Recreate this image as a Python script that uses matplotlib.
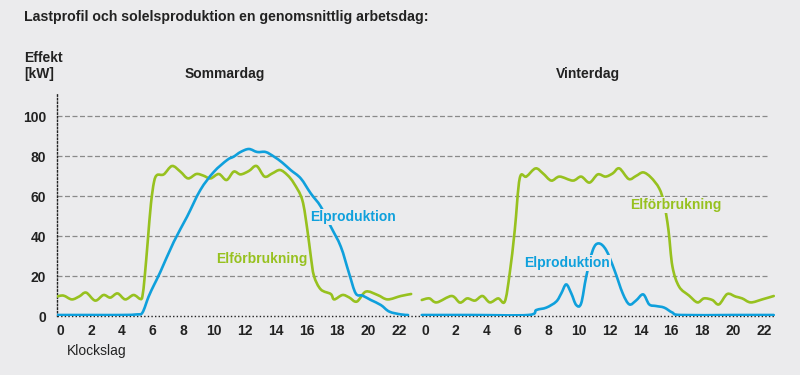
import matplotlib
matplotlib.use("Agg")
import matplotlib.pyplot as plt
from matplotlib.path import Path
from matplotlib.patches import PathPatch

plt.rcParams['font.family'] = ['Liberation Sans', 'DejaVu Sans']

# ---------------- data ----------------
title = "Lastprofil och solelsproduktion en genomsnittlig arbetsdag:"
ylabel = "Effekt\n[kW]"
xlabel = "Klockslag"
panel_titles = ["Sommardag", "Vinterdag"]
tick_hours = [0, 2, 4, 6, 8, 10, 12, 14, 16, 18, 20, 22]
y_ticks = [0, 20, 40, 60, 80, 100]

# Summer load (Elförbrukning)
sum_load_h = [-0.22, 0.22, 0.76, 1.25, 1.69, 2.28, 2.82, 3.26, 3.73, 4.23, 4.77, 5.21,
              5.35, 5.5, 5.7, 5.9, 6.1, 6.3, 6.73, 7.27, 7.81, 8.31, 8.85, 9.3, 9.77,
              10.31, 10.81, 11.28, 11.72, 12.26, 12.76, 13.28, 13.78, 14.28, 14.76,
              15.19, 15.73, 16.06, 16.28, 16.49, 16.93, 17.58, 17.8, 18.34, 18.77,
              19.27, 19.86, 20.62, 21.27, 22.13, 22.8]
sum_load_v = [9.7, 10.2, 8.3, 9.8, 11.7, 7.7, 10.5, 9.2, 11.3, 8.3, 10.5, 8.5,
              10, 20, 38, 56, 67, 70.5, 70.8, 75, 72.2, 68.8, 71, 70.2, 68.8,
              71, 68, 72.2, 70.8, 72.5, 75, 69.7, 71.3, 73, 70.5,
              66.3, 58, 43, 30, 20, 13.3, 11, 8.3, 10.5, 9.3,
              7.2, 12.2, 10.5, 8.3, 10, 11]

# Summer production (Elproduktion)
sum_prod_h = [-0.22, 2, 4, 5.0, 5.35, 5.75, 6.1, 6.51, 7.38, 8.25, 9.11, 9.98, 10.85,
              11.28, 11.72, 12.26, 12.8, 13.35, 13.89, 14.43, 14.97, 15.63, 16.28,
              16.93, 17.58, 18.23, 18.77, 19.2, 19.64, 20.18, 20.83, 21.38, 22.13, 22.6]
sum_prod_v = [0.5, 0.5, 0.5, 0.8, 1.7, 9.7, 15.5, 22, 37, 49.7, 63, 72, 78,
              79.7, 82, 83.5, 82, 82, 79.7, 76.7, 73, 68.8, 61.3,
              54.7, 44.7, 34.7, 21.3, 11.3, 10.2, 8, 5.5, 2.2, 0.8, 0.5]

# Winter load (Elförbrukning)
win_load_h = [-0.21, 0.28, 0.76, 1.73, 2.27, 2.74, 3.24, 3.73, 4.21, 4.75, 5.18,
              5.5, 5.83, 6.15, 6.58, 7.18, 7.66, 8.2, 8.74, 9.6, 10.14, 10.68,
              11.22, 11.72, 12.19, 12.62, 13.23, 13.7, 14.17, 14.67, 15.21, 15.53,
              15.81, 16.07, 16.5, 17.15, 17.69, 18.12, 18.66, 19.09, 19.63, 20.17,
              20.6, 21.15, 21.9, 22.65]
win_load_v = [8, 8.8, 6.8, 10, 6.7, 8.8, 7.7, 10, 6.8, 8.8, 7.2,
              21.3, 43, 68.8, 69.7, 73.8, 71.3, 67.7, 69.7, 67.7, 69.7, 66.7,
              70.8, 69.7, 71.3, 73.8, 68.5, 70, 71.8, 69.3, 63.8, 56.3,
              43, 24.7, 14.7, 10.2, 6.8, 8.8, 8, 5.8, 11, 9.7,
              8.8, 6.8, 8.3, 10]

# Winter production (Elproduktion)
win_prod_h = [-0.21, 3, 6.69, 7.23, 7.88, 8.52, 8.85, 9.17, 9.5, 9.82, 10.14, 10.47,
              10.9, 11.28, 11.76, 12.3, 12.84, 13.27, 13.7, 14.17, 14.56, 15.0,
              15.53, 16.07, 16.62, 20, 22.65]
win_prod_v = [0.5, 0.5, 0.5, 3, 4.2, 7.2, 11.3, 15.8, 11.3, 5.5, 6.3, 19.7,
              33, 36.3, 33, 23, 11.3, 5.8, 7.7, 10.8, 5.8, 5.0,
              4.2, 1.7, 0.5, 0.5, 0.5]

# ---------------- style ----------------
BG = "#ebebed"
GREEN = "#97c11f"
BLUE = "#0fa0dc"
WIN_OFFSET = 23.7   # horizontal shift of the winter panel (hours)


def smooth_path(xs, ys, tension=0.5):
    """Catmull-Rom style cubic Bezier path through the given points."""
    pts = list(zip(xs, ys))
    verts = [pts[0]]
    codes = [Path.MOVETO]
    n = len(pts)
    k = tension / 3.0
    for i in range(n - 1):
        p0 = pts[i - 1] if i > 0 else pts[i]
        p1 = pts[i]
        p2 = pts[i + 1]
        p3 = pts[i + 2] if i + 2 < n else pts[i + 1]
        c1 = (p1[0] + (p2[0] - p0[0]) * k, p1[1] + (p2[1] - p0[1]) * k)
        c2 = (p2[0] - (p3[0] - p1[0]) * k, p2[1] - (p3[1] - p1[1]) * k)
        verts += [c1, c2, p2]
        codes += [Path.CURVE4] * 3
    return Path(verts, codes)


fig = plt.figure(figsize=(8, 3.75), dpi=100, facecolor=BG)
ax = fig.add_axes([57 / 800, 1 - 316 / 375, (775 - 57) / 800, (316 - 94) / 375])
ax.set_facecolor(BG)

xmin, xmax = -0.2, 46.43
ax.set_xlim(xmin, xmax)
ax.set_ylim(0, 111)

# grid lines
for yv in y_ticks[1:]:
    ax.plot([xmin, 45.9], [yv, yv], color="#8a8a8a", lw=0.9, ls=(0, (4, 2)), zorder=1)
ax.plot([xmin, xmax], [0, 0], color="#222222", lw=1.0, ls=(0, (1, 1.6)), zorder=1,
        clip_on=False)

lw = 1.9
series = [
    (sum_load_h, sum_load_v, GREEN, 0.0),
    (sum_prod_h, sum_prod_v, BLUE, 0.0),
    (win_load_h, win_load_v, GREEN, WIN_OFFSET),
    (win_prod_h, win_prod_v, BLUE, WIN_OFFSET),
]
for hs, vs, col, off in series:
    p = smooth_path([h + off for h in hs], vs)
    ax.add_patch(PathPatch(p, facecolor='none', edgecolor=col, lw=lw,
                           joinstyle='round', capstyle='round', zorder=3))

# spines
for s in ['top', 'right', 'bottom']:
    ax.spines[s].set_visible(False)
ax.spines['left'].set_linestyle((0, (1, 1.6)))
ax.spines['left'].set_color("#222222")
ax.spines['left'].set_linewidth(1.0)

# ticks
ax.set_yticks(y_ticks)
ax.set_yticklabels([str(v) for v in y_ticks], fontsize=10, fontweight='bold',
                   color="#222222")
xt = tick_hours + [h + WIN_OFFSET for h in tick_hours]
ax.set_xticks(xt)
ax.set_xticklabels([str(h) for h in tick_hours] * 2, fontsize=10, fontweight='bold',
                   color="#222222")
ax.tick_params(axis='both', length=0, pad=6)
ax.tick_params(axis='y', pad=8)

# texts
fig.text(24 / 800, 1 - 17 / 375, title, fontsize=10.2, fontweight='bold',
         color="#222222", va='center', ha='left')
fig.text(24 / 800, 1 - 66 / 375, ylabel, fontsize=10, fontweight='bold',
         color="#222222", va='center', ha='left', linespacing=1.1)
fig.text(185 / 800, 1 - 74 / 375, panel_titles[0], fontsize=10, fontweight='bold',
         color="#222222", va='center', ha='left')
fig.text(556 / 800, 1 - 74 / 375, panel_titles[1], fontsize=10, fontweight='bold',
         color="#222222", va='center', ha='left')
fig.text(67 / 800, 1 - 351 / 375, xlabel, fontsize=10, color="#222222",
         va='center', ha='left')

bb = dict(facecolor=BG, edgecolor='none', pad=0.6)
fig.text(310 / 800, 1 - 217 / 375, "Elproduktion", fontsize=10, fontweight='bold',
         color=BLUE, va='center', ha='left', bbox=bb, zorder=5)
fig.text(216 / 800, 1 - 259 / 375, "Elförbrukning", fontsize=10, fontweight='bold',
         color=GREEN, va='center', ha='left', bbox=bb, zorder=5)
fig.text(630 / 800, 1 - 205 / 375, "Elförbrukning", fontsize=10, fontweight='bold',
         color=GREEN, va='center', ha='left', bbox=bb, zorder=5)
fig.text(524 / 800, 1 - 263 / 375, "Elproduktion", fontsize=10, fontweight='bold',
         color=BLUE, va='center', ha='left', bbox=bb, zorder=5)

fig.savefig("out.png", dpi=100, facecolor=BG)
